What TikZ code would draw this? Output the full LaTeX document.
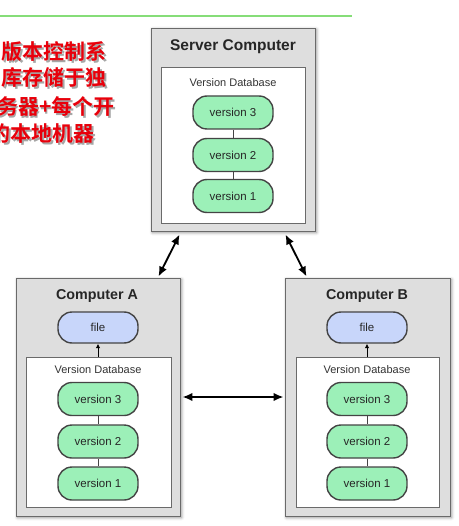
\documentclass[tikz,border=0pt]{standalone}
\usepackage{fontspec}
\setmainfont{Liberation Sans}
\newfontfamily\cjk[BoldFont=* Bold]{Noto Sans CJK SC}
\usetikzlibrary{arrows.meta,shadows.blur}
\definecolor{boxgray}{HTML}{DEDEDE}
\definecolor{edgegray}{HTML}{6A6A6A}
\definecolor{pillgreen}{HTML}{9CF0B8}
\definecolor{pillblue}{HTML}{C8D6FA}
\definecolor{pilledge}{HTML}{444444}
\definecolor{redtext}{HTML}{E8000B}
\definecolor{topline}{HTML}{86DD78}
\tikzset{
  computer/.style={draw=edgegray, fill=boxgray, line width=0.9pt, inner sep=0pt,
    blur shadow={shadow xshift=1.5pt, shadow yshift=-1.5pt, shadow blur radius=3pt, shadow opacity=45}},
  vdb/.style={draw=edgegray, fill=white, line width=0.7pt, inner sep=0pt},
  pill/.style={draw=pilledge, fill=pillgreen, line width=1.4pt, rounded corners=14pt,
    minimum width=80pt, minimum height=33pt, inner sep=0pt, text=black!85, font=\fontsize{11.5}{13}\selectfont},
  filepill/.style={pill, fill=pillblue, minimum height=31pt},
  title/.style={font=\fontsize{14.3}{16}\selectfont\bfseries, inner sep=0pt, text=black!85},
  bigtitle/.style={title, font=\fontsize{15.5}{17}\selectfont\bfseries},
  dblabel/.style={font=\fontsize{11}{13}\selectfont, text=black!80, inner sep=0pt},
  link/.style={draw=pilledge, line width=0.8pt},
  sync/.style={line width=1.8pt, {Latex[length=10pt,width=8.5pt]}-{Latex[length=10pt,width=8.5pt]}},
  checkout/.style={line width=0.8pt, -{Latex[length=4.5pt,width=4.5pt]}},
  cn/.style={font=\cjk\bfseries\fontsize{21}{24}\selectfont, inner sep=0pt, anchor=base east}
}
\begin{document}
\begin{tikzpicture}[x=1pt,y=-1pt]
\useasboundingbox (0,0) rectangle (458,526);
\clip (0,0) rectangle (458,526);
\draw[topline, line width=1.3pt] (0,16) -- (352,16);
% red text
\foreach \t/\x/\y in {版本控制系/107/60, 库存储于独/107/86, 务器+每个开/115/115, 的本地机器/95/142}{
  \node[cn, text=black, opacity=0.35] at (\x+1.5,\y+1.5) {\t};
  \node[cn, text=redtext] at (\x,\y) {\t};
}
% server
\node[computer, minimum width=164pt, minimum height=203pt] (S) at (233,129.5) {};
\node[bigtitle] (St) at (233,47) {Server Computer};
\node[vdb, minimum width=144pt, minimum height=156pt] (Sd) at (233,145) {};
\node[dblabel] (Sl) at (233,83) {Version Database};
\node[pill] (S3) at (233,112.5) {version 3};
\node[pill] (S2) at (233,155) {version 2};
\node[pill] (S1) at (233,196) {version 1};
\draw[link] (S3) -- (S2) (S2) -- (S1);
% computer A
\node[computer, minimum width=164pt, minimum height=238pt] (A) at (98,397) {};
\node[title] (At) at (97,296) {Computer A};
\node[filepill] (Af) at (98,327.5) {file};
\node[vdb, minimum width=145pt, minimum height=150pt] (Ad) at (98.5,432) {};
\node[dblabel] (Al) at (98,370) {Version Database};
\node[pill] (A3) at (98,399) {version 3};
\node[pill] (A2) at (98,441.5) {version 2};
\node[pill] (A1) at (98,483.5) {version 1};
\draw[link] (A3) -- (A2) (A2) -- (A1);
\draw[checkout] (Ad.north -| Af) -- (Af.south);
% computer B
\node[computer, minimum width=165pt, minimum height=238pt] (B) at (367.5,397) {};
\node[title] (Bt) at (367,296) {Computer B};
\node[filepill] (Bf) at (367,327.5) {file};
\node[vdb, minimum width=143pt, minimum height=150pt] (Bd) at (367.5,432) {};
\node[dblabel] (Bl) at (367,370) {Version Database};
\node[pill] (B3) at (367,399) {version 3};
\node[pill] (B2) at (367,441.5) {version 2};
\node[pill] (B1) at (367,483.5) {version 1};
\draw[link] (B3) -- (B2) (B2) -- (B1);
\draw[checkout] (Bd.north -| Bf) -- (Bf.south);
% sync arrows
\draw[sync] ([xshift=29pt,yshift=-3pt]S.south west) -- ([xshift=-22pt,yshift=1pt]A.north east);
\draw[sync] ([xshift=-30pt,yshift=-3pt]S.south east) -- ([xshift=22pt,yshift=1pt]B.north west);
\draw[sync] ([xshift=2pt]A.east) -- ([xshift=-1pt]B.west);
\end{tikzpicture}
\end{document}
